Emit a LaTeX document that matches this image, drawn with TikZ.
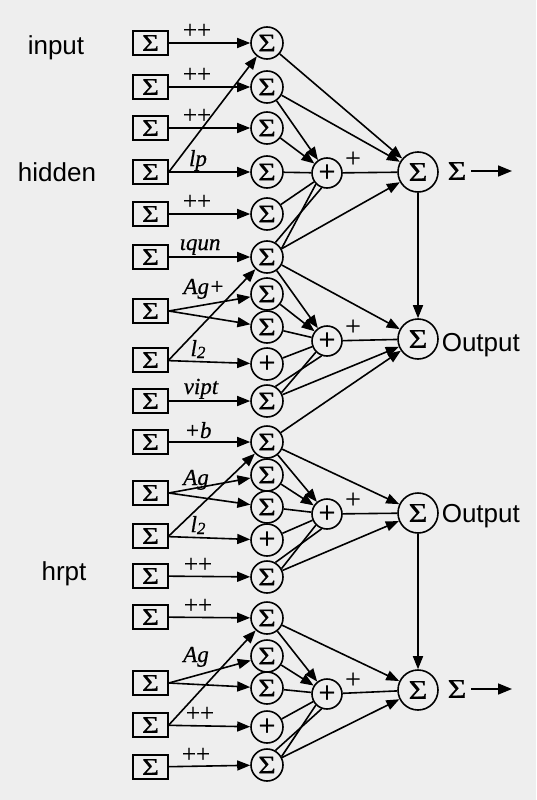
\documentclass[tikz,border=0pt]{standalone}
\usepackage{fontspec}
\setmainfont{Liberation Serif}
\newfontfamily\sansf{Liberation Sans}
\newfontfamily\heavy[FakeBold=0.7,FakeStretch=1.2]{Liberation Serif}
\newfontfamily\heavyp[FakeBold=0.5]{Liberation Serif}
\newfontfamily\labf[FakeBold=0.5]{Liberation Serif}
\usetikzlibrary{arrows.meta}
\definecolor{bg}{RGB}{238,238,238}
\newcommand{\subtwo}{{\fontsize{17}{17}\selectfont\raisebox{-2pt}{2}}}
\begin{document}
\begin{tikzpicture}[x=1pt,y=-1pt,
  line width=1.6pt,
  arr/.style={-{Triangle[length=13pt,width=10pt]}},
  inbox/.style={draw, minimum width=35pt, minimum height=24pt, inner sep=0pt, font=\heavy\fontsize{24}{24}\selectfont},
  cnode/.style={draw, circle, minimum size=32pt, inner sep=0pt, font=\heavy\fontsize{25}{25}\selectfont},
  pnode/.style={draw, circle, minimum size=30pt, inner sep=0pt, font=\heavyp\fontsize{30}{30}\selectfont},
  onode/.style={draw, circle, minimum size=40pt, inner sep=0pt, font=\heavy\fontsize{27}{27}\selectfont},
  lab/.style={font=\labf\fontsize{23}{23}\selectfont\itshape, inner sep=0pt, anchor=base},
  pp/.style={font=\labf\fontsize{25}{25}\selectfont, inner sep=0pt, anchor=base},
  plab/.style={font=\labf\fontsize{27}{27}\selectfont, inner sep=0pt, anchor=base},
  side/.style={font=\sansf\fontsize{26}{26}\selectfont, anchor=base, inner sep=0pt},
]
\fill[bg] (0,0) rectangle (536,800);
\useasboundingbox (0,0) rectangle (536,800);

% side labels
\node[side] (tin) at (56,55) {input};
\node[side] (thid) at (57,181) {hidden};
\node[side] (thr) at (64,580) {hrpt};

% input boxes
\foreach \n/\y in {1/43,2/87,3/128,4/172,5/214,6/257,7/311,8/360,9/401,10/442,11/493,12/536,13/576,14/617,15/683,16/725,17/767}
  \node[inbox] (b\n) at (150.5,\y) {Σ};

% middle circles
\foreach \n/\y in {1/43,2/87,3/128,4/172,5/214,6/257,7/294,8/327,10/401,11/442,12/475,13/507,15/577,16/618,17/656,18/688,20/765}
  \node[cnode] (c\n) at (267,\y) {Σ};
\node[pnode, minimum size=32pt] (c9) at (267,364) {+};
\node[pnode, minimum size=32pt] (c14) at (267,540) {+};
\node[pnode, minimum size=32pt] (c19) at (267,727) {+};

% plus nodes
\node[pnode] (p1) at (327,173) {+};
\node[pnode] (p2) at (327,341) {+};
\node[pnode] (p3) at (327,514) {+};
\node[pnode] (p4) at (327,694) {+};

% output nodes
\node[onode] (o1) at (418,172) {Σ};
\node[onode] (o2) at (418,339) {Σ};
\node[onode] (o3) at (418,513) {Σ};
\node[onode] (o4) at (418,690) {Σ};

% input arrows
\foreach \a/\b in {1/1,2/2,3/3,4/4,5/5,6/6,8/9,9/10,10/11,12/14,13/15,14/16,16/19,17/20}
  \draw[arr] (b\a) -- (c\b);
\draw[arr] (b4.east) -- (c1);
\draw[arr] (b7.east) -- (c7);
\draw[arr] (b7.east) -- (c8);
\draw[arr] (b8.east) -- (c6);
\draw[arr] (b11.east) -- (c12);
\draw[arr] (b11.east) -- (c13);
\draw[arr] (b12.east) -- (c11);
\draw[arr] (b15.east) -- (c17);
\draw[arr] (b15.east) -- (c18);
\draw[arr] (b16.east) -- (c16);

% input labels
\node[pp] (l1) at (197,38) {++};
\node[pp] (l2) at (197,82) {++};
\node[pp] (l3) at (197,123) {++};
\node[lab] (l4) at (198,166) {lp};
\node[pp] (l5) at (197,209) {++};
\node[lab] (l6) at (200,250) {ιqun};
\node[lab] (l7) at (204,294) {Ag+};
\node[lab] (l8) at (198,356) {l\subtwo};
\node[lab] (l9) at (201,394) {vipt};
\node[lab] (l10) at (198,438) {+b};
\node[lab] (l11) at (196,485) {Ag};
\node[lab] (l12) at (198,532) {l\subtwo};
\node[pp] (l13) at (198,572) {++};
\node[pp] (l14) at (198,613) {++};
\node[lab] (l15) at (196,662) {Ag};
\node[pp] (l16) at (200,721) {++};
\node[pp] (l17) at (196,762) {++};

% block 1
\draw[arr] (c1) -- (o1);
\draw[arr] (c2) -- (o1);
\draw[arr] (c2) -- (p1);
\draw[arr] (c3) -- (p1);
\draw (c4) -- (p1);
\draw (c5) -- (p1);
\draw (c6.60) -- (p1.250);
\draw (c6.30) -- (p1.225);
\draw[arr] (c6) -- (o1);
\draw (p1) -- (o1);
% block 2
\draw[arr] (c6) -- (p2);
\draw[arr] (c6) -- (o2);
\draw[arr] (c7) -- (p2);
\draw (c8) -- (p2);
\draw (c9) -- (p2);
\draw (c10.60) -- (p2.250);
\draw (c10.30) -- (p2.225);
\draw[arr] (c10) -- (o2);
\draw[arr] (c11) -- (o2);
\draw (p2) -- (o2);
% block 3
\draw[arr] (c11) -- (p3);
\draw[arr] (c11) -- (o3);
\draw[arr] (c12) -- (p3);
\draw (c13) -- (p3);
\draw (c14) -- (p3);
\draw (c15.60) -- (p3.250);
\draw (c15.30) -- (p3.225);
\draw[arr] (c15) -- (o3);
\draw (p3) -- (o3);
% block 4
\draw[arr] (c16) -- (p4);
\draw[arr] (c16) -- (o4);
\draw[arr] (c17) -- (p4);
\draw (c18) -- (p4);
\draw (c19) -- (p4);
\draw (c20.60) -- (p4.250);
\draw (c20.30) -- (p4.225);
\draw[arr] (c20) -- (o4);
\draw (p4) -- (o4);

% plus labels
\node[plab] (q1) at (353,167) {+};
\node[plab] (q2) at (353,335) {+};
\node[plab] (q3) at (353,508) {+};
\node[plab] (q4) at (353,688) {+};

% output chain
\draw[arr] (o1) -- (o2);
\draw[arr] (o3) -- (o4);

% right side
\node[font=\heavy\fontsize{27}{27}\selectfont, inner sep=1pt] (s1) at (457,171) {Σ};
\node[font=\heavy\fontsize{27}{27}\selectfont, inner sep=1pt] (s4) at (457,689) {Σ};
\coordinate (e1) at (512,171);
\coordinate (e4) at (512,689);
\draw[-{Triangle[length=14pt,width=11pt]}, shorten <=3pt] (s1) -- (e1);
\draw[-{Triangle[length=14pt,width=11pt]}, shorten <=3pt] (s4) -- (e4);
\node[side, anchor=base west] (t2) at (441,351) {Output};
\node[side, anchor=base west] (t3) at (441,522) {Output};
\end{tikzpicture}
\end{document}
